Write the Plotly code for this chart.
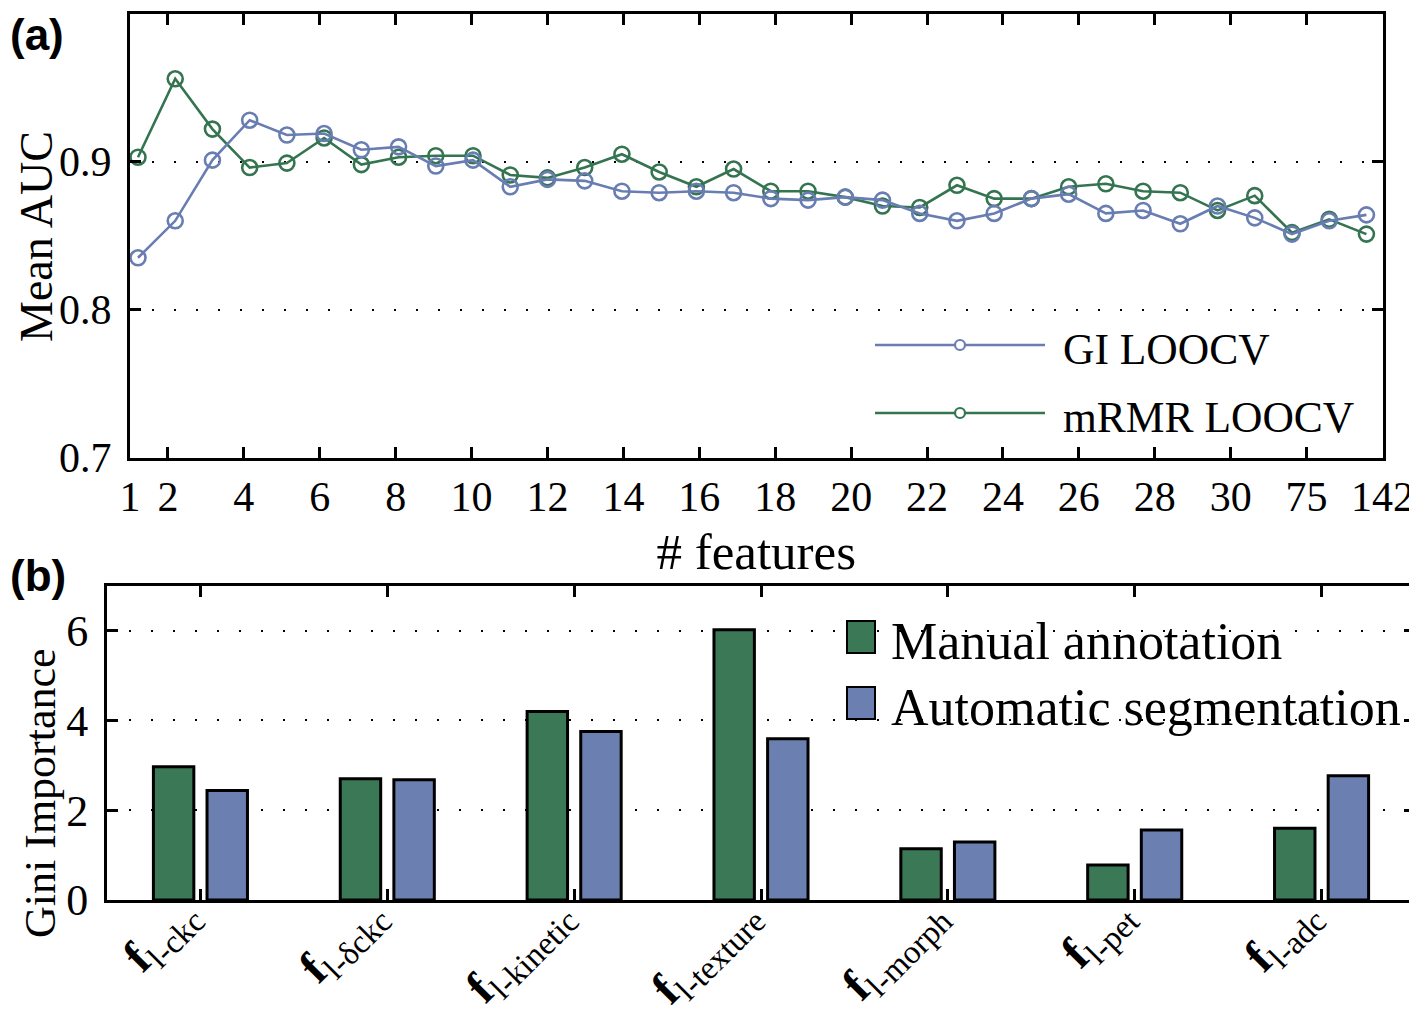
import plotly.graph_objects as go

# page has an 8px body margin, so the figure is drawn 8px in from the window corner
OFF = 8
W, H = 1417 - OFF, 1013 - OFF

# ---------------- data: panel (a) ----------------
feature_tick_labels = ["1", "2", "4", "6", "8", "10", "12", "14", "16", "18",
                       "20", "22", "24", "26", "28", "30", "75", "142"]
tick_slots = [1, 2, 4, 6, 8, 10, 12, 14, 16, 18, 20, 22, 24, 26, 28, 30, 32, 34]
point_index = list(range(1, 35))

gi_auc = [0.835, 0.860, 0.901, 0.928, 0.918, 0.919, 0.908, 0.910, 0.897, 0.901,
          0.883, 0.888, 0.887, 0.880, 0.879, 0.880, 0.879, 0.875, 0.874, 0.876,
          0.874, 0.865, 0.860, 0.865, 0.875, 0.878, 0.865, 0.867, 0.858, 0.870,
          0.862, 0.851, 0.860, 0.864]
mrmr_auc = [0.903, 0.956, 0.922, 0.896, 0.899, 0.916, 0.898, 0.903, 0.904, 0.904,
            0.891, 0.889, 0.896, 0.905, 0.893, 0.883, 0.895, 0.880, 0.880, 0.876,
            0.870, 0.869, 0.884, 0.875, 0.875, 0.883, 0.885, 0.880, 0.879, 0.867,
            0.877, 0.852, 0.861, 0.851]
auc_ticks = [0.7, 0.8, 0.9, 1.0]
auc_tick_labels = ["0.7", "0.8", "0.9", "1"]

# ---------------- data: panel (b) ----------------
feature_groups = ["ckc", "δckc", "kinetic", "texture", "morph", "pet", "adc"]
manual_gini = [2.97, 2.70, 4.20, 6.02, 1.14, 0.78, 1.60]
automatic_gini = [2.44, 2.68, 3.75, 3.59, 1.29, 1.56, 2.77]
gini_ticks = [0, 2, 4, 6]

series_names_a = ["GI LOOCV", "mRMR LOOCV"]
series_names_b = ["Manual annotation", "Automatic segmentation"]

BLUE = "#687db2"
GREEN = "#357451"
BAR_GREEN = "#3b7856"
BAR_BLUE = "#6b80b1"
SERIF = "Liberation Serif, Times New Roman, serif"
SANS = "Liberation Sans, Arial, sans-serif"

# tick scale -> point-index scale (ticks are spaced slightly wider than points)
TICK_STEP = 38.0 / 37.27
TICK_OFFSET = 1 - 46.0 / 37.27
tickvals_a = [TICK_OFFSET + TICK_STEP * s for s in tick_slots]
x_range_a = [tickvals_a[0], tickvals_a[-1] + 1e-6]


def px(x):
    return (x - OFF) / W


def py(y):
    return 1 - (y - OFF) / H


fig = go.Figure()

fig.add_trace(go.Scatter(
    x=point_index, y=mrmr_auc, name=series_names_a[1], mode="lines+markers",
    line=dict(color=GREEN, width=2.6),
    marker=dict(symbol="circle-open", size=15, color=GREEN, line=dict(width=2.6, color=GREEN)),
    xaxis="x", yaxis="y", cliponaxis=False, showlegend=False))
fig.add_trace(go.Scatter(
    x=point_index, y=gi_auc, name=series_names_a[0], mode="lines+markers",
    line=dict(color=BLUE, width=2.6),
    marker=dict(symbol="circle-open", size=15, color=BLUE, line=dict(width=2.6, color=BLUE)),
    xaxis="x", yaxis="y", cliponaxis=False, showlegend=False))

fig.add_trace(go.Bar(
    x=feature_groups, y=manual_gini, name=series_names_b[0],
    marker=dict(color=BAR_GREEN, line=dict(color="black", width=3)),
    xaxis="x2", yaxis="y2", showlegend=False))
fig.add_trace(go.Bar(
    x=feature_groups, y=automatic_gini, name=series_names_b[1],
    marker=dict(color=BAR_BLUE, line=dict(color="black", width=3)),
    xaxis="x2", yaxis="y2", showlegend=False))

axis_common = dict(
    ticks="inside", ticklen=11, tickwidth=3, tickcolor="black",
    showline=True, linecolor="black", linewidth=3, mirror="allticks",
    zeroline=False, automargin=False,
)
grid_style = dict(showgrid=True, gridcolor="black", gridwidth=2, griddash="2px,20px")

fig.update_layout(
    width=W, height=H,
    margin=dict(l=0, r=0, t=0, b=0),
    paper_bgcolor="white", plot_bgcolor="white",
    barmode="group", bargap=0.426, bargroupgap=0.246,
    xaxis=dict(
        domain=[px(130), px(1382.5)], anchor="y",
        range=x_range_a, tickmode="array", tickvals=tickvals_a, ticktext=feature_tick_labels,
        tickfont=dict(family=SERIF, size=42, color="black"),
        showgrid=False,
        title=dict(text="# features", font=dict(family=SERIF, size=51, color="black")),
        **axis_common),
    yaxis=dict(
        domain=[py(457.5), py(13.7)], anchor="x",
        range=[0.7, 1.0], tickmode="array", tickvals=auc_ticks, ticktext=auc_tick_labels,
        tickfont=dict(family=SERIF, size=42, color="black"),
        ticklabelstandoff=7,
        **grid_style, **axis_common),
    xaxis2=dict(
        domain=[px(107), px(1415)], anchor="y2",
        type="category", range=[-0.5, 6.5],
        tickmode="array", tickvals=feature_groups,
        ticktext=["<b>f</b><sub>l-%s</sub>" % g for g in feature_groups],
        tickangle=-45, ticklabelshift=-17, ticklabelstandoff=-36,
        tickfont=dict(family=SERIF, size=47, color="black"),
        showgrid=False,
        **axis_common),
    yaxis2=dict(
        domain=[py(900), py(585.7)], anchor="x2",
        range=[0, 7], tickmode="array", tickvals=gini_ticks,
        tickfont=dict(family=SERIF, size=44, color="black"),
        ticklabelstandoff=7,
        **grid_style, **axis_common),
)

shapes = []
annotations = []

# y-axis titles
annotations.append(dict(text="Mean AUC", xref="paper", yref="paper",
                        x=px(37), y=py(237), xanchor="center", yanchor="middle",
                        textangle=-90, showarrow=False,
                        font=dict(family=SERIF, size=46, color="black")))
annotations.append(dict(text="Gini Importance", xref="paper", yref="paper",
                        x=px(40), y=py(793), xanchor="center", yanchor="middle",
                        textangle=-90, showarrow=False,
                        font=dict(family=SERIF, size=44, color="black")))

# legend for panel (a)
for name, color, yc in [(series_names_a[0], BLUE, 345), (series_names_a[1], GREEN, 413)]:
    shapes.append(dict(type="line", xref="paper", yref="paper",
                       x0=px(875), x1=px(1045), y0=py(yc), y1=py(yc),
                       line=dict(color=color, width=2.6)))
    shapes.append(dict(type="circle", xref="paper", yref="paper",
                       x0=px(955), x1=px(965), y0=py(yc + 5), y1=py(yc - 5),
                       line=dict(color=color, width=2.2), fillcolor="white"))
    annotations.append(dict(text=name, xref="paper", yref="paper", x=px(1061), y=py(yc + 4),
                            xanchor="left", yanchor="middle", showarrow=False,
                            font=dict(family=SERIF, size=43.5, color="black")))

# legend for panel (b)
for name, color, y0, y1 in [(series_names_b[0], BAR_GREEN, 621, 653),
                            (series_names_b[1], BAR_BLUE, 687, 719)]:
    shapes.append(dict(type="rect", xref="paper", yref="paper",
                       x0=px(847), x1=px(875), y0=py(y1), y1=py(y0),
                       line=dict(color="black", width=2), fillcolor=color))
    annotations.append(dict(text=name, xref="paper", yref="paper", x=px(889), y=py((y0 + y1) / 2 + 4),
                            xanchor="left", yanchor="middle", showarrow=False,
                            font=dict(family=SERIF, size=52, color="black")))

# panel labels
annotations.append(dict(text="<b>(a)</b>", xref="paper", yref="paper", x=0, y=1,
                        xanchor="left", yanchor="top", showarrow=False,
                        font=dict(family=SANS, size=44, color="black")))
annotations.append(dict(text="<b>(b)</b>", xref="paper", yref="paper", x=0, y=py(555),
                        xanchor="left", yanchor="top", showarrow=False, yshift=6,
                        font=dict(family=SANS, size=44, color="black")))

fig.update_layout(shapes=shapes, annotations=annotations)

fig.write_html("out.html")
